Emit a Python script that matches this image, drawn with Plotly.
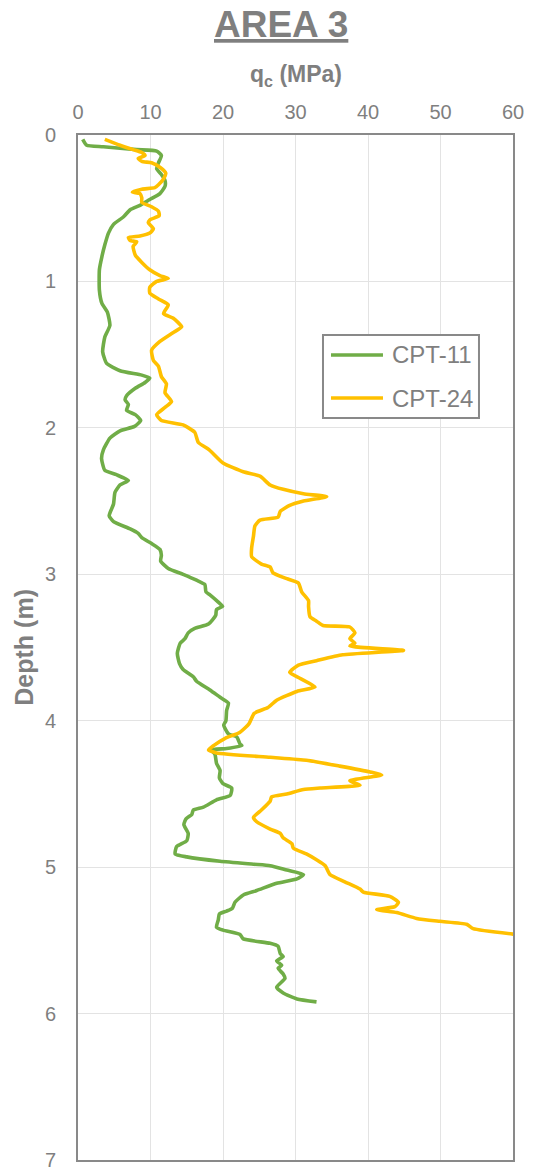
import plotly.graph_objects as go

# ---- data ----
cpt11_depth = [0.03,0.07,0.08,0.10,0.11,0.14,0.19,0.23,0.27,0.31,0.35,0.40,0.44,0.48,0.51,0.56,0.61,0.67,0.75,0.83,
               0.92,1.06,1.15,1.21,1.30,1.38,1.48,1.56,1.61,1.64,1.66,1.69,1.73,1.78,1.81,1.84,1.88,1.91,1.95,1.99,
               2.02,2.07,2.15,2.21,2.29,2.32,2.36,2.39,2.44,2.52,2.60,2.64,2.69,2.72,2.75,2.79,2.83,2.87,2.91,2.96,
               3.00,3.04,3.07,3.12,3.14,3.19,3.22,3.24,3.28,3.34,3.37,3.40,3.44,3.47,3.54,3.61,3.65,3.70,3.73,3.79,
               3.84,3.88,3.93,4.00,4.03,4.09,4.11,4.16,4.17,4.19,4.20,4.23,4.29,4.34,4.39,4.43,4.46,4.51,4.54,4.59,
               4.61,4.64,4.67,4.71,4.77,4.82,4.86,4.91,4.93,4.96,4.98,4.99,5.02,5.05,5.08,5.11,5.16,5.19,5.24,5.28,
               5.30,5.32,5.36,5.41,5.43,5.46,5.49,5.52,5.54,5.59,5.61,5.64,5.67,5.69,5.73,5.76,5.82,5.86,5.90,5.92]
cpt11_qc = [0.65,1.2,3.5,8.1,10.85,11.5,11.1,10.85,11.5,12.0,12.0,11.3,9.9,8.55,7.2,6.25,4.9,4.2,3.7,3.3,
            2.95,2.95,3.3,4.05,4.4,3.7,3.4,3.95,5.8,8.8,9.9,9.25,7.9,6.7,6.5,6.95,6.7,7.9,8.65,7.8,
            5.8,4.4,3.5,3.25,3.7,5.3,6.95,5.8,5.1,4.9,4.3,4.9,7.2,8.3,8.8,10.15,11.3,11.5,11.4,12.45,
            14.5,16.35,17.5,17.65,18.2,19.35,19.95,19.1,19.0,18.0,16.1,15.2,14.75,14.1,13.7,14.0,14.5,15.9,16.35,18.2,
            19.6,20.75,20.5,20.4,20.1,20.75,21.9,22.35,22.6,20.5,18.4,18.9,19.1,19.6,19.5,20.0,21.2,21.0,19.1,17.3,
            15.9,15.7,14.9,14.6,15.2,15.0,13.6,13.4,15.0,19.6,24.2,26.5,28.8,31.1,30.2,27.4,24.65,22.8,21.65,21.3,
            20.5,19.5,19.35,19.1,20.0,22.35,22.8,26.5,27.6,27.9,28.3,27.4,28.1,27.6,28.3,28.55,27.4,28.3,30.2,32.9]

cpt24_depth = [0.03,0.07,0.10,0.12,0.14,0.16,0.18,0.19,0.22,0.26,0.30,0.34,0.36,0.37,0.39,0.40,0.43,0.46,0.49,0.52,
               0.55,0.58,0.60,0.64,0.67,0.69,0.70,0.72,0.73,0.76,0.82,0.87,0.92,0.96,0.98,1.00,1.04,1.08,1.12,1.16,
               1.22,1.25,1.31,1.35,1.41,1.47,1.54,1.58,1.65,1.70,1.76,1.82,1.86,1.91,1.95,1.98,2.03,2.10,2.15,2.24,
               2.30,2.33,2.39,2.42,2.45,2.47,2.50,2.53,2.57,2.61,2.63,2.67,2.74,2.82,2.88,2.93,2.95,2.99,3.03,3.06,
               3.12,3.18,3.22,3.29,3.32,3.35,3.36,3.40,3.44,3.47,3.49,3.52,3.55,3.59,3.62,3.67,3.71,3.77,3.80,3.86,
               3.91,3.95,4.02,4.08,4.12,4.17,4.20,4.22,4.25,4.27,4.31,4.35,4.37,4.41,4.44,4.46,4.47,4.50,4.52,4.55,
               4.61,4.66,4.69,4.74,4.77,4.80,4.84,4.87,4.91,4.95,4.99,5.05,5.10,5.15,5.17,5.20,5.24,5.27,5.29,5.31,
               5.35,5.37,5.39,5.42,5.46]
cpt24_qc = [3.7,5.8,7.6,8.8,9.25,8.3,8.8,10.15,11.3,12.1,11.8,11.1,10.6,8.8,7.5,8.55,8.8,8.8,10.15,11.1,
            11.2,9.9,9.7,10.4,9.9,8.55,6.95,7.2,8.1,7.6,7.9,8.8,9.9,11.3,12.45,10.85,9.9,9.9,11.1,12.45,
            11.8,13.1,14.3,13.1,11.3,10.15,10.4,11.1,11.5,12.2,12.0,12.9,12.0,10.85,11.5,14.5,16.1,16.6,18.1,20.0,
            22.8,25.1,26.5,28.3,31.1,34.3,31.1,29.2,27.9,27.6,25.1,24.4,24.2,23.95,23.95,25.3,26.5,26.9,28.8,30.4,
            30.85,31.8,31.8,32.0,32.9,33.8,37.5,38.2,37.5,38.2,37.5,44.9,36.5,32.9,30.4,29.2,30.6,32.7,30.2,27.4,
            26.2,24.3,23.6,22.3,20.3,18.7,18.0,19.1,26.5,31.5,36.1,40.3,41.9,37.5,38.9,33.4,31.1,28.8,26.7,26.5,
            25.3,24.2,24.65,26.5,27.9,28.3,29.5,29.7,31.5,32.9,34.1,34.75,36.8,38.9,39.35,43.0,44.2,43.7,41.2,43.95,
            46.7,49.9,53.6,54.5,60.5]

series_names = ["CPT-11", "CPT-24"]
series_colors = ["#70AD47", "#FFC000"]
x_ticks = [0, 10, 20, 30, 40, 50, 60]
y_ticks = [0, 1, 2, 3, 4, 5, 6, 7]

FONT = "Liberation Sans, Arial, sans-serif"
GRAY = "#7f7f7f"
FRAME = "#898989"

fig = go.Figure()
for name, color, q, d in zip(series_names, series_colors, [cpt11_qc, cpt24_qc], [cpt11_depth, cpt24_depth]):
    fig.add_trace(go.Scatter(x=q, y=d, mode="lines", name=name, showlegend=False,
                             line=dict(color=color, width=3.6, shape="spline", smoothing=0.5)))

axis_common = dict(showgrid=True, gridcolor="#e3e3e3", gridwidth=1, showline=True, linecolor=FRAME,
                   linewidth=2, mirror=True, zeroline=False, ticks="", automargin=False,
                   tickfont=dict(family=FONT, size=20, color=GRAY))

fig.update_xaxes(range=[0, 60], side="top", tickvals=x_ticks, ticklabelstandoff=6, **axis_common)
fig.update_yaxes(range=[7, 0], tickvals=y_ticks, ticklabelstandoff=16, **axis_common)

fig.add_annotation(text="<b><u>AREA 3</u></b>", xref="paper", yref="paper", x=0.467, y=1.108,
                   xanchor="center", yanchor="middle", showarrow=False,
                   font=dict(family=FONT, size=37, color=GRAY))
fig.add_annotation(text="<b>q<sub>c</sub> (MPa)</b>", xref="paper", yref="paper", x=0.501, y=1.0585,
                   xanchor="center", yanchor="middle", showarrow=False,
                   font=dict(family=FONT, size=23, color=GRAY))
fig.add_annotation(text="<b>Depth (m)</b>", xref="paper", yref="paper", x=-0.126, y=0.5,
                   xanchor="center", yanchor="middle", textangle=-90, showarrow=False,
                   font=dict(family=FONT, size=25, color=GRAY))

# legend box (drawn manually to match the reference's proportions)
leg_x0, leg_x1, leg_y0, leg_y1 = 0.5632, 0.9218, 0.7239, 0.8049
fig.add_shape(type="rect", xref="paper", yref="paper", x0=leg_x0, x1=leg_x1, y0=leg_y0, y1=leg_y1,
              line=dict(color=FRAME, width=2), fillcolor="white", layer="above")
for i, (name, color) in enumerate(zip(series_names, series_colors)):
    yy = 0.7854 - i * 0.042
    fig.add_shape(type="line", xref="paper", yref="paper", x0=0.5816, x1=0.7011, y0=yy, y1=yy,
                  line=dict(color=color, width=3.6), layer="above")
    fig.add_annotation(text=name, xref="paper", yref="paper", x=0.7172, y=yy, xanchor="left",
                       yanchor="middle", showarrow=False, font=dict(family=FONT, size=24, color=GRAY))

fig.update_layout(
    width=534, height=1171,
    margin=dict(l=78, r=21, t=135, b=11, autoexpand=False),
    paper_bgcolor="white", plot_bgcolor="white",
    showlegend=False,
)

# remove the default page margin so the figure sits at the window's top-left corner
fig.write_html("out.html", config={"displayModeBar": False},
               post_script="document.body.style.margin='0px';")
